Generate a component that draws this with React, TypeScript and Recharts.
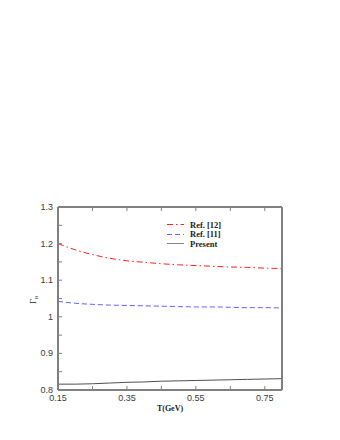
import { LineChart, Line, XAxis, YAxis, Legend } from 'recharts';

const temps = [0.15, 0.2, 0.25, 0.3, 0.35, 0.4, 0.45, 0.5, 0.55, 0.6, 0.65, 0.7, 0.75, 0.8];
const ref12 = [1.2, 1.183, 1.17, 1.16, 1.153, 1.149, 1.145, 1.142, 1.14, 1.138, 1.136, 1.135, 1.133, 1.132];
const ref11 = [1.042, 1.037, 1.034, 1.032, 1.031, 1.03, 1.029, 1.028, 1.027, 1.027, 1.026, 1.025, 1.025, 1.024];
const present = [0.816, 0.816, 0.817, 0.819, 0.821, 0.822, 0.824, 0.825, 0.826, 0.827, 0.828, 0.829, 0.83, 0.831];

const xTicks = [0.15, 0.25, 0.35, 0.45, 0.55, 0.65, 0.75];
const xLabels = [0.15, 0.35, 0.55, 0.75];
const yTicks = [0.8, 0.85, 0.9, 0.95, 1, 1.05, 1.1, 1.15, 1.2, 1.25, 1.3];
const yLabels = [0.8, 0.9, 1, 1.1, 1.2, 1.3];

const series = [
  { key: 'ref12', name: 'Ref. [12]', color: '#ff2020', dash: '6 3 1.5 3' },
  { key: 'ref11', name: 'Ref. [11]', color: '#6060ff', dash: '5 3' },
  { key: 'present', name: 'Present', color: '#505050', dash: undefined },
];

const data = temps.map((t, i) => ({ t, ref12: ref12[i], ref11: ref11[i], present: present[i] }));

const FRAME = '#808080';
const TICK_TEXT = '#3a3a3a';

const isLabel = (list: number[], v: number) => list.some((l) => Math.abs(l - v) < 1e-6);

function BottomTick({ x, y, payload }: any) {
  return (
    <g>
      <line x1={x} y1={y} x2={x} y2={y - 4} stroke={FRAME} />
      {isLabel(xLabels, payload.value) && (
        <text x={x} y={y + 11} textAnchor="middle" fontSize={9} fill={TICK_TEXT} fontFamily="Liberation Sans, Arial, sans-serif">
          {payload.value.toFixed(2)}
        </text>
      )}
    </g>
  );
}

function TopTick({ x, y }: any) {
  return <line x1={x} y1={y} x2={x} y2={y + 4} stroke={FRAME} />;
}

function LeftTick({ x, y, payload }: any) {
  const v = payload.value;
  const txt = Math.abs(v - 1) < 1e-6 ? '1' : v.toFixed(1);
  return (
    <g>
      <line x1={x} y1={y} x2={x + 4} y2={y} stroke={FRAME} />
      {isLabel(yLabels, v) && (
        <text x={x - 5} y={y + 3} textAnchor="end" fontSize={9} fill={TICK_TEXT} fontFamily="Liberation Sans, Arial, sans-serif">
          {txt}
        </text>
      )}
    </g>
  );
}

function RightTick({ x, y }: any) {
  return <line x1={x} y1={y} x2={x - 4} y2={y} stroke={FRAME} />;
}

function XLabel({ viewBox }: any) {
  return (
    <text x={viewBox.x + viewBox.width / 2} y={viewBox.y + 21} textAnchor="middle" fontSize={8} fontWeight="bold" fontFamily="Liberation Serif, Times New Roman, serif" fill="#222">
      T(GeV)
    </text>
  );
}

function YLabel() {
  return (
    <text x={36} y={304} transform="rotate(-90, 36, 304)" fontSize={8.5} fontFamily="Liberation Serif, Times New Roman, serif" fill="#222">
      Γ<tspan dy={2} fontSize={5}>B</tspan>
    </text>
  );
}

function LegendBox() {
  return (
    <div style={{ fontFamily: 'Liberation Serif, Times New Roman, serif', fontWeight: 'bold', fontSize: 8.5, color: '#222' }}>
      {series.map((s) => (
        <div key={s.key} style={{ display: 'flex', alignItems: 'center', height: 9.5 }}>
          <svg width={24} height={9}>
            <line x1={1} y1={4.5} x2={18} y2={4.5} stroke={s.key === 'present' ? '#888' : s.color} strokeDasharray={s.dash} />
          </svg>
          <span>{s.name}</span>
        </div>
      ))}
    </div>
  );
}

export default function App() {
  return (
    <div style={{ position: 'absolute', left: 0, top: 0, background: '#fff' }}>
      <LineChart width={340} height={440} data={data} margin={{ top: 206, right: 57, bottom: 30, left: 28 }}>
        <XAxis
          dataKey="t"
          type="number"
          domain={[0.15, 0.8]}
          ticks={xTicks}
          interval={0}
          height={20}
          tickSize={0}
          tickMargin={0}
          axisLine={{ stroke: FRAME, strokeWidth: 2 }}
          tickLine={false}
          tick={<BottomTick />}
          label={<XLabel />}
        />
        <XAxis
          xAxisId="top"
          orientation="top"
          dataKey="t"
          type="number"
          domain={[0.15, 0.8]}
          ticks={xTicks}
          interval={0}
          height={1}
          tickSize={0}
          tickMargin={0}
          axisLine={{ stroke: FRAME, strokeWidth: 2 }}
          tickLine={false}
          tick={<TopTick />}
        />
        <YAxis
          type="number"
          domain={[0.8, 1.3]}
          ticks={yTicks}
          interval={0}
          width={30}
          tickSize={0}
          tickMargin={0}
          axisLine={{ stroke: FRAME, strokeWidth: 2 }}
          tickLine={false}
          tick={<LeftTick />}
          label={<YLabel />}
        />
        <YAxis
          yAxisId="right"
          orientation="right"
          type="number"
          domain={[0.8, 1.3]}
          ticks={yTicks}
          interval={0}
          width={1}
          tickSize={0}
          tickMargin={0}
          axisLine={{ stroke: FRAME, strokeWidth: 2 }}
          tickLine={false}
          tick={<RightTick />}
        />
        <Legend
          layout="vertical"
          align="center"
          verticalAlign="middle"
          content={<LegendBox />}
          wrapperStyle={{ left: 166, top: 220, width: 90, height: 30 }}
        />
        {series.map((s) => (
          <Line
            key={s.key}
            dataKey={s.key}
            name={s.name}
            type="monotone"
            stroke={s.color}
            strokeWidth={1}
            strokeDasharray={s.dash}
            dot={false}
            activeDot={false}
            isAnimationActive={false}
          />
        ))}
      </LineChart>
    </div>
  );
}
